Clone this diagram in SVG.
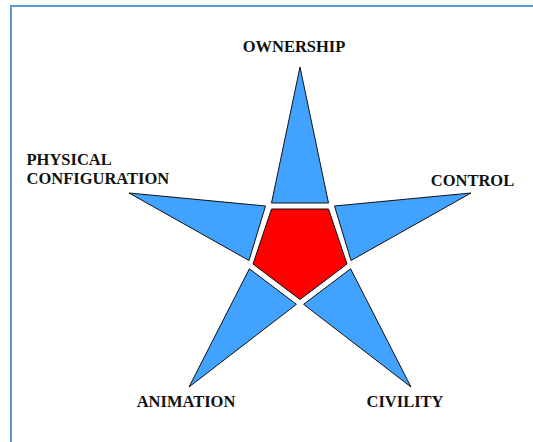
<svg xmlns="http://www.w3.org/2000/svg" width="533" height="442" viewBox="0 0 533 442">
<style>
.arm{fill:#41a3ff;stroke:#111;stroke-width:1;stroke-linejoin:miter}
.core{fill:#ff0000;stroke:#111;stroke-width:1}
.frame{fill:none;stroke:#5b9bd5;stroke-width:2}
text{font-family:Times New Roman, Liberation Serif, serif;font-weight:700;font-size:16.5px;fill:#111}
</style>
<rect width="533" height="442" fill="#fff"/>
<path class="frame" d="M11,442 V6 H533"/>
<g id="core"><polygon class="core" points="271.5,209 328.5,209 347,264 300,299.5 253,264"/></g>
<g id="ownership">
<polygon class="arm" points="300,67 328.5,203 271.5,203"/>
<text x="294" y="52" text-anchor="middle">OWNERSHIP</text>
</g>
<g id="physical-configuration">
<polygon class="arm" points="129,193 265.5,206 249,260.5"/>
<text x="26.5" y="165">PHYSICAL</text>
<text x="26.5" y="183.5">CONFIGURATION</text>
</g>
<g id="control">
<polygon class="arm" points="471,193 334.5,206 351,260.5"/>
<text x="472.5" y="186" text-anchor="middle">CONTROL</text>
</g>
<g id="animation">
<polygon class="arm" points="189,387 249.4,268.8 296.4,304.3"/>
<text x="186" y="407" text-anchor="middle">ANIMATION</text>
</g>
<g id="civility">
<polygon class="arm" points="411,387 350.6,268.8 303.6,304.3"/>
<text x="405" y="407" text-anchor="middle">CIVILITY</text>
</g>
<g id="connectors"/>
</svg>
